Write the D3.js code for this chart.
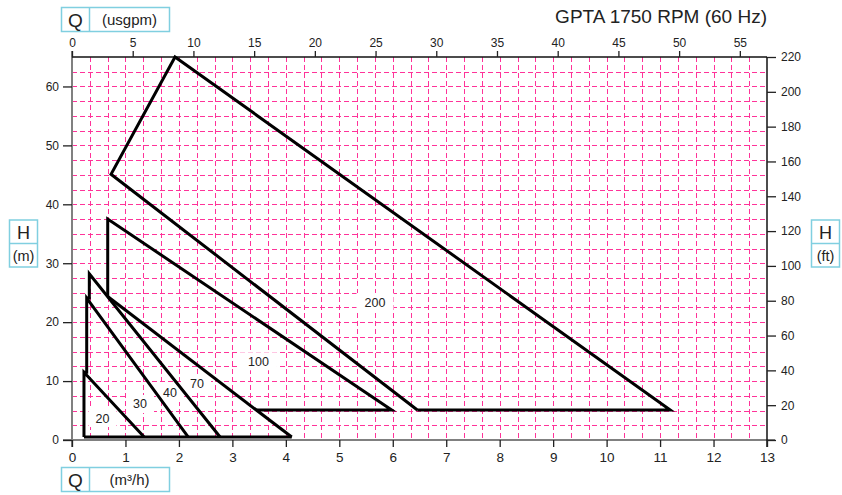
<!DOCTYPE html>
<html>
<head>
<meta charset="utf-8">
<script src="https://cdn.jsdelivr.net/npm/d3@7"></script>
<style>
    body { margin: 0; background: #fff; }
    text { font-family: "Liberation Sans", Arial, Helvetica, sans-serif; fill: #222; }
</style>
</head>
<body>
<svg id="chart" width="842" height="495"></svg>
<script>
    'use strict';

    // flow in m3/h, head in m
    const qTicks = d3.range(0, 14, 1);
    const usgpmTicks = d3.range(0, 56, 5);
    const hTicks = d3.range(0, 61, 10);
    const ftTicks = d3.range(0, 221, 20);

    // performance ranges, [Q m3/h, H m]
    const base = [[0.224, 0.5], [4.11, 0.5]];
    const curve20 = [[0.224, 0.5], [0.224, 11.5], [1.35, 0.5]];
    const curve30 = [[0.224, 11.5], [0.275, 11.5], [0.275, 24.1], [2.175, 0.5]];
    const curve40 = [[0.275, 24.1], [0.324, 24.1], [0.324, 28.2], [2.77, 0.5]];
    const curve70 = [[0.668, 24.35], [4.11, 0.5]];
    const curve100 = [[0.668, 24.35], [0.668, 37.5], [5.98, 5.1], [3.45, 5.1]];
    const curve200 = [[6.46, 5.1], [0.73, 45.1], [1.927, 65], [11.19, 5.1], [6.46, 5.1]];

    const labelNames = ['20', '30', '40', '70', '100', '200'];
    const labelQ = [0.571, 1.272, 1.833, 2.338, 3.488, 5.668];
    const labelH = [3.73, 6.11, 7.98, 9.67, 13.36, 23.42];

    const M3H_TO_USGPM = 4.4029;

    const plot = {left: 72, right: 767, top: 57, bottom: 440};
    const gridColor = '#ff3399';
    const boxColor = '#80cfe0';

    const svg = d3.select('#chart');

    const x = d3.scaleLinear().domain([0, 13]).range([plot.left, plot.right]);
    const xTop = d3.scaleLinear().domain([0, 13 * M3H_TO_USGPM]).range([plot.left, plot.right]);
    const y = d3.scaleLinear().domain([0, 65]).range([plot.bottom, plot.top]);
    const yFt = d3.scaleLinear().domain([0, 220]).range([plot.bottom, plot.top]);

    // grid
    const grid = svg.append('g').classed('grid', true)
        .attr('stroke', gridColor)
        .attr('stroke-width', 1)
        .attr('stroke-dasharray', '5,3');

    grid.selectAll('.v')
        .data(d3.range(1, 39).map(i => i / 3))
        .join('line')
        .attr('x1', d => Math.round(x(d)) + 0.5)
        .attr('x2', d => Math.round(x(d)) + 0.5)
        .attr('y1', plot.top)
        .attr('y2', plot.bottom);

    grid.selectAll('.h')
        .data(d3.range(1, 26).map(i => i * 2.5))
        .join('line')
        .attr('x1', plot.left)
        .attr('x2', plot.right)
        .attr('y1', d => Math.round(y(d)) + 0.5)
        .attr('y2', d => Math.round(y(d)) + 0.5);

    // size labels with white background, under the curves
    const labels = svg.append('g').classed('labels', true)
        .selectAll('g')
        .data(labelNames)
        .join('g')
        .attr('transform', (d, i) => `translate(${x(labelQ[i])},${y(labelH[i])})`);

    labels.append('rect')
        .attr('x', d => -d.length * 4.5 - 5)
        .attr('y', -9)
        .attr('width', d => d.length * 9 + 10)
        .attr('height', 18)
        .attr('fill', '#fff');

    labels.append('text')
        .attr('text-anchor', 'middle')
        .attr('dy', '0.36em')
        .style('font-size', '12.5px')
        .text(d => d);

    // axis lines
    svg.append('line')
        .attr('x1', plot.left).attr('x2', plot.left)
        .attr('y1', plot.top - 6).attr('y2', plot.bottom + 7)
        .attr('stroke', '#808080').attr('stroke-width', 2);
    svg.append('line')
        .attr('x1', plot.left - 9).attr('x2', plot.right + 8)
        .attr('y1', plot.bottom).attr('y2', plot.bottom)
        .attr('stroke', '#808080').attr('stroke-width', 2);
    svg.append('line')
        .attr('x1', plot.left).attr('x2', plot.right)
        .attr('y1', plot.top).attr('y2', plot.top)
        .attr('stroke', '#111').attr('stroke-width', 1.5);
    svg.append('line')
        .attr('x1', plot.right).attr('x2', plot.right)
        .attr('y1', plot.top).attr('y2', plot.bottom + 7)
        .attr('stroke', '#111').attr('stroke-width', 1.5);

    function styleAxis(g, size) {
        g.select('.domain').remove();
        g.selectAll('.tick line').attr('stroke', '#222').attr('stroke-width', 1.3);
        g.selectAll('.tick text')
            .style('font-family', '"Liberation Sans", Arial, sans-serif')
            .style('font-size', size + 'px')
            .attr('fill', '#222');
    }

    svg.append('g')
        .attr('transform', `translate(0,${plot.top})`)
        .call(d3.axisTop(xTop).tickValues(usgpmTicks).tickSize(6).tickPadding(4))
        .call(g => styleAxis(g, 12));

    svg.append('g')
        .attr('transform', `translate(0,${plot.bottom})`)
        .call(d3.axisBottom(x).tickValues(qTicks).tickSize(7).tickPadding(5))
        .call(g => styleAxis(g, 13.5));

    svg.append('g')
        .attr('transform', `translate(${plot.left},0)`)
        .call(d3.axisLeft(y).tickValues(hTicks).tickSize(9).tickPadding(4))
        .call(g => styleAxis(g, 12));

    svg.append('g')
        .attr('transform', `translate(${plot.right},0)`)
        .call(d3.axisRight(yFt).tickValues(ftTicks).tickSize(9).tickPadding(5))
        .call(g => styleAxis(g, 12));

    // curves
    const line = d3.line().x(d => x(d[0])).y(d => y(d[1]));

    svg.append('g').classed('curves', true)
        .selectAll('path')
        .data([base, curve20, curve30, curve40, curve70, curve100, curve200])
        .join('path')
        .attr('d', line)
        .attr('fill', 'none')
        .attr('stroke', '#000')
        .attr('stroke-width', 3)
        .attr('stroke-linejoin', 'miter')
        .attr('stroke-linecap', 'butt');

    // title
    svg.append('text')
        .attr('x', plot.right)
        .attr('y', 23)
        .attr('text-anchor', 'end')
        .style('font-size', '19px')
        .text('GPTA 1750 RPM (60 Hz)');

    // unit boxes
    function hBox(top, unit) {
        const g = svg.append('g').attr('transform', `translate(61.5,${top})`);
        g.append('rect')
            .attr('width', 108).attr('height', 24)
            .attr('fill', '#fff').attr('stroke', boxColor).attr('stroke-width', 1.5);
        g.append('line')
            .attr('x1', 28).attr('x2', 28).attr('y1', 0).attr('y2', 24)
            .attr('stroke', boxColor).attr('stroke-width', 1.5);
        g.append('text')
            .attr('x', 14).attr('y', 19.5)
            .attr('text-anchor', 'middle')
            .style('font-size', '19px')
            .text('Q');
        g.append('text')
            .attr('x', 68).attr('y', 17.5)
            .attr('text-anchor', 'middle')
            .style('font-size', '15px')
            .text(unit);
    }

    function vBox(left, unit) {
        const g = svg.append('g').attr('transform', `translate(${left},220)`);
        g.append('rect')
            .attr('width', 28).attr('height', 47)
            .attr('fill', '#fff').attr('stroke', boxColor).attr('stroke-width', 1.5);
        g.append('line')
            .attr('x1', 0).attr('x2', 28).attr('y1', 23.5).attr('y2', 23.5)
            .attr('stroke', boxColor).attr('stroke-width', 1.5);
        g.append('text')
            .attr('x', 14).attr('y', 19)
            .attr('text-anchor', 'middle')
            .style('font-size', '18px')
            .text('H');
        g.append('text')
            .attr('x', 14).attr('y', 41)
            .attr('text-anchor', 'middle')
            .style('font-size', '14.5px')
            .text(unit);
    }

    hBox(7.5, '(usgpm)');
    hBox(467.5, '(m³/h)');
    vBox(9.5, '(m)');
    vBox(811.5, '(ft)');
</script>
</body>
</html>
